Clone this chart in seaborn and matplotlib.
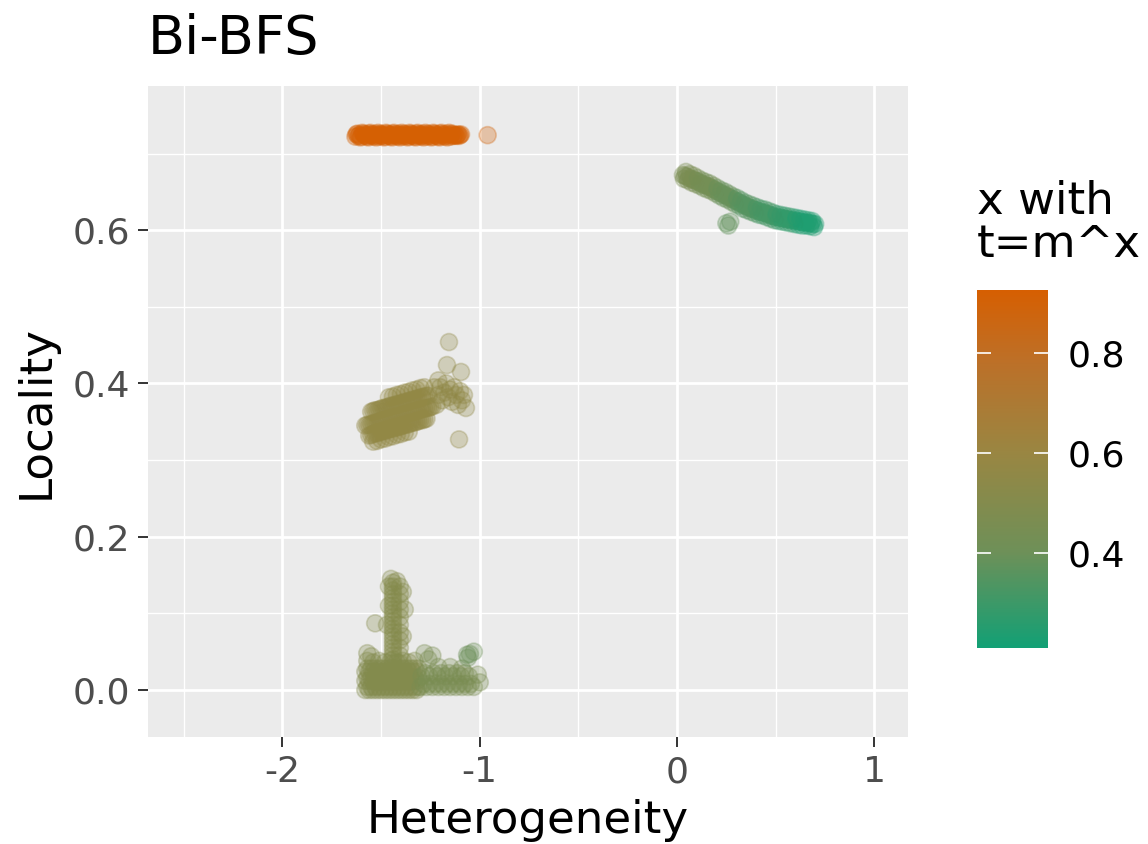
import numpy as np
import pandas as pd
import matplotlib
matplotlib.use("Agg")
import matplotlib.pyplot as plt
import seaborn as sns
from matplotlib.colors import LinearSegmentedColormap, Normalize
from matplotlib.cm import ScalarMappable

# ---------------- data ----------------
# cluster at the top (orange)
top_x = [-1.63,-1.62,-1.61,-1.60,-1.59,-1.58,-1.57,-1.56,-1.55,-1.54,-1.53,-1.52,-1.51,-1.50,-1.49,-1.48,
         -1.47,-1.46,-1.45,-1.44,-1.43,-1.42,-1.41,-1.40,-1.39,-1.38,-1.37,-1.36,-1.35,-1.34,-1.33,-1.32,
         -1.31,-1.30,-1.29,-1.28,-1.27,-1.26,-1.25,-1.24,-1.23,-1.22,-1.21,-1.20,-1.19,-1.18,-1.17,-1.16,
         -1.15,-1.14,-1.13,-1.12,-1.11,-1.10,
         -1.625,-1.615,-1.605,-1.595,-1.585,-1.575,-1.565,-1.555,-1.545,-1.535,-1.525,-1.515,-1.505,-1.495,
         -1.485,-1.475,-1.465,-1.455,-1.445,-1.435,-1.425,-1.415,-1.405,-1.395,-1.385,-1.375,-1.365,-1.355,
         -1.345,-1.335,-1.325,-1.315,-1.305,-1.295,-1.285,-1.275,-1.265,-1.255,-1.245,-1.235,-1.225,-1.215,
         -1.205,-1.195,-1.185,-1.175,-1.165,-1.155,-1.145,-1.135,-1.125,-1.115,-1.105,-1.095,
         -1.55,-1.50,-1.45,-1.40,-1.35,-1.30,-0.96]
top_y = [0.722,0.726,0.724,0.722,0.726,0.724,0.722,0.726,0.724,0.722,0.726,0.724,0.722,0.726,0.724,0.722,
         0.726,0.724,0.722,0.726,0.724,0.722,0.726,0.724,0.722,0.726,0.724,0.722,0.726,0.724,0.722,0.726,
         0.724,0.722,0.726,0.724,0.722,0.726,0.724,0.722,0.726,0.724,0.722,0.726,0.724,0.722,0.726,0.724,
         0.722,0.726,0.724,0.723,0.725,0.724,
         0.725,0.723,0.721,0.727,0.725,0.723,0.721,0.727,0.725,0.723,0.721,0.727,0.725,0.723,0.721,0.727,
         0.725,0.723,0.721,0.727,0.725,0.723,0.721,0.727,0.725,0.723,0.721,0.727,0.725,0.723,0.721,0.727,
         0.725,0.723,0.721,0.727,0.725,0.723,0.721,0.727,0.725,0.723,0.721,0.727,0.725,0.723,0.721,0.727,
         0.725,0.723,0.724,0.724,0.723,0.725,
         0.724,0.724,0.724,0.724,0.724,0.724,0.724]
top_c = [0.92] * 114 + [0.90]

# curved cluster on the right (green)
right_x = [0.03,0.04,0.05,0.06,0.07,0.08,0.09,0.10,0.11,0.12,0.13,0.14,0.15,0.16,0.17,0.18,0.19,
           0.20,0.21,0.22,0.23,0.24,0.25,0.26,0.27,0.28,0.29,0.30,0.31,0.32,0.33,0.34,0.35,0.36,
           0.37,0.38,0.39,0.40,0.41,0.42,0.43,0.44,0.45,0.46,0.47,0.48,0.49,0.50,0.51,0.52,0.53,
           0.54,0.55,0.56,0.57,0.58,0.59,0.60,0.61,0.62,0.63,0.64,0.65,0.66,0.67,0.68,0.69,0.70,
           0.035,0.055,0.075,0.095,0.115,0.135,0.155,0.175,0.195,0.215,0.235,0.255,0.275,0.295,0.315,
           0.335,0.355,0.375,0.395,0.415,0.435,0.455,0.475,0.495,0.515,0.535,0.555,0.575,0.595,0.615,
           0.635,0.655,0.675,0.695,
           0.045,0.065,0.085,0.105,0.125,0.145,0.165,0.185,0.205,0.225,0.245,0.265,0.285,0.305,0.325,
           0.345,0.365,0.385,0.405,0.425,0.445,0.465,0.485,0.505,0.525,0.545,0.565,0.585,0.605,0.625,
           0.645,0.665,0.685,
           0.25,0.26,0.27]
right_y = [0.672,0.671,0.670,0.668,0.667,0.666,0.665,0.664,0.663,0.661,0.660,0.659,0.658,0.657,0.656,
           0.654,0.653,0.651,0.650,0.649,0.647,0.646,0.645,0.643,0.642,0.641,0.639,0.638,0.637,0.635,
           0.634,0.633,0.631,0.630,0.629,0.628,0.627,0.626,0.625,0.624,0.623,0.623,0.622,0.621,0.620,
           0.619,0.618,0.617,0.617,0.616,0.616,0.615,0.615,0.614,0.614,0.613,0.613,0.612,0.612,0.611,
           0.611,0.610,0.610,0.610,0.609,0.609,0.608,0.608,
           0.667,0.665,0.662,0.660,0.658,0.655,0.653,0.651,0.648,0.645,0.642,0.640,0.637,0.634,0.632,
           0.628,0.626,0.624,0.622,0.620,0.619,0.617,0.615,0.613,0.612,0.611,0.610,0.609,0.608,0.607,
           0.606,0.606,0.605,0.604,
           0.676,0.673,0.671,0.668,0.665,0.663,0.661,0.658,0.655,0.652,0.650,0.647,0.644,0.642,0.639,
           0.636,0.634,0.632,0.630,0.628,0.627,0.625,0.623,0.621,0.620,0.619,0.618,0.617,0.616,0.615,
           0.614,0.613,0.612,
           0.609,0.606,0.611]
right_c = ([0.46]*7 + [0.43]*10 + [0.39]*10 + [0.35]*10 + [0.32]*10 + [0.28]*10 + [0.24]*11
           + [0.46]*4 + [0.43]*5 + [0.39]*5 + [0.35]*5 + [0.32]*5 + [0.28]*5 + [0.24]*5
           + [0.46]*3 + [0.43]*5 + [0.39]*5 + [0.35]*5 + [0.32]*5 + [0.28]*5 + [0.24]*5
           + [0.38]*3)

# middle cluster
mid_x = [-1.58,-1.57,-1.56,-1.55,-1.54,-1.53,-1.52,-1.51,-1.50,-1.49,-1.48,-1.47,-1.46,-1.45,-1.44,
         -1.43,-1.42,-1.41,-1.40,-1.39,-1.38,-1.37,-1.36,-1.35,-1.34,-1.33,-1.32,-1.31,-1.30,-1.29,
         -1.28,-1.27,-1.26,-1.25,-1.24,
         -1.55,-1.54,-1.53,-1.52,-1.51,-1.50,-1.49,-1.48,-1.47,-1.46,-1.45,-1.44,-1.43,-1.42,-1.41,
         -1.40,-1.39,-1.38,-1.37,-1.36,-1.35,-1.34,-1.33,-1.32,-1.31,-1.30,-1.29,-1.28,-1.27,-1.26,
         -1.56,-1.55,-1.54,-1.53,-1.52,-1.51,-1.50,-1.49,-1.48,-1.47,-1.46,-1.45,-1.44,-1.43,-1.42,
         -1.41,-1.40,-1.39,-1.38,-1.37,-1.36,-1.35,-1.34,-1.33,-1.32,-1.31,-1.30,-1.29,-1.28,-1.27,
         -1.46,-1.44,-1.42,-1.40,-1.38,-1.36,-1.34,-1.32,-1.30,-1.28,
         -1.54,-1.52,-1.50,-1.48,-1.46,-1.44,-1.42,-1.40,-1.38,-1.36,
         -1.22,-1.21,-1.20,-1.19,-1.18,-1.17,-1.16,-1.15,-1.14,-1.13,-1.12,-1.11,-1.10,-1.09,-1.08,
         -1.07,-1.21,-1.23,
         -1.156,-1.166,-1.095,-1.105]
mid_y = [0.345,0.346,0.346,0.347,0.348,0.349,0.349,0.350,0.351,0.352,0.352,0.353,0.354,0.355,0.355,
         0.356,0.357,0.357,0.358,0.359,0.360,0.360,0.361,0.362,0.363,0.363,0.364,0.365,0.366,0.366,
         0.367,0.368,0.368,0.369,0.370,
         0.363,0.364,0.365,0.365,0.366,0.367,0.368,0.368,0.369,0.370,0.371,0.371,0.372,0.373,0.373,
         0.374,0.375,0.376,0.376,0.377,0.378,0.379,0.379,0.380,0.381,0.382,0.382,0.383,0.384,0.384,
         0.332,0.333,0.334,0.335,0.335,0.336,0.337,0.338,0.338,0.339,0.340,0.341,0.341,0.342,0.343,
         0.343,0.344,0.345,0.346,0.346,0.347,0.348,0.349,0.349,0.350,0.351,0.352,0.352,0.353,0.354,
         0.382,0.383,0.385,0.386,0.388,0.389,0.391,0.392,0.394,0.395,
         0.324,0.325,0.327,0.328,0.330,0.331,0.333,0.334,0.336,0.337,
         0.372,0.385,0.395,0.378,0.388,0.400,0.382,0.392,0.376,0.395,0.385,0.372,0.390,0.378,0.385,
         0.368,0.404,0.395,
         0.454,0.424,0.415,0.327]
mid_c = [0.57] * 115 + [0.56] * 18 + [0.56, 0.56, 0.56, 0.57]

# bottom cluster
bot_x = [-1.44,-1.44,-1.44,-1.44,-1.44,-1.44,-1.44,-1.44,-1.44,-1.44,-1.44,-1.44,-1.44,-1.44,-1.44,
         -1.44,-1.44,-1.44,-1.44,-1.44,-1.44,-1.44,
         -1.405,-1.405,-1.405,-1.405,-1.405,-1.405,-1.405,-1.405,-1.405,-1.405,-1.405,
         -1.46,-1.45,-1.42,-1.39,-1.46,-1.38,-1.53,-1.47,-1.39,
         -1.58,-1.57,-1.56,-1.55,-1.54,-1.53,-1.52,-1.51,-1.50,-1.49,-1.48,-1.47,-1.46,-1.45,-1.44,
         -1.43,-1.42,-1.41,-1.40,-1.39,-1.38,-1.37,-1.36,-1.35,-1.34,-1.33,-1.32,-1.31,
         -1.58,-1.57,-1.56,-1.55,-1.54,-1.53,-1.52,-1.51,-1.50,-1.49,-1.48,-1.47,-1.46,-1.45,-1.44,
         -1.43,-1.42,-1.41,-1.40,-1.39,-1.38,-1.37,-1.36,-1.35,-1.34,-1.33,-1.32,-1.31,
         -1.58,-1.57,-1.56,-1.55,-1.54,-1.53,-1.52,-1.51,-1.50,-1.49,-1.48,-1.47,-1.46,-1.45,-1.44,
         -1.43,-1.42,-1.41,-1.40,-1.39,-1.38,-1.37,-1.36,-1.35,-1.34,-1.33,-1.32,-1.31,
         -1.57,-1.54,-1.51,-1.48,-1.45,-1.42,-1.39,-1.36,-1.33,-1.57,-1.55,
         -1.300,-1.285,-1.270,-1.255,-1.240,-1.225,-1.210,-1.195,-1.180,-1.165,-1.150,-1.135,-1.120,
         -1.105,-1.090,-1.075,-1.060,-1.045,-1.030,
         -1.295,-1.275,-1.255,-1.235,-1.215,-1.195,-1.175,-1.155,-1.135,-1.115,-1.095,-1.075,-1.055,
         -1.28,-1.26,-1.24,-1.21,-1.15,-1.09,-1.01,-1.00,
         -1.064,-1.06,-1.03,-1.05]
bot_y = [0.035,0.040,0.045,0.050,0.055,0.060,0.065,0.070,0.075,0.080,0.085,0.090,0.095,0.100,0.105,
         0.110,0.115,0.120,0.125,0.130,0.135,0.140,
         0.035,0.045,0.055,0.065,0.075,0.085,0.095,0.105,0.115,0.125,0.135,
         0.135,0.145,0.142,0.128,0.110,0.105,0.087,0.085,0.070,
         0.000,0.004,0.000,0.004,0.000,0.004,0.000,0.004,0.000,0.004,0.000,0.004,0.000,0.004,0.000,
         0.004,0.000,0.004,0.000,0.004,0.000,0.004,0.000,0.004,0.000,0.004,0.000,0.004,
         0.012,0.016,0.012,0.016,0.012,0.016,0.012,0.016,0.012,0.016,0.012,0.016,0.012,0.016,0.012,
         0.016,0.012,0.016,0.012,0.016,0.012,0.016,0.012,0.016,0.012,0.016,0.012,0.016,
         0.024,0.028,0.024,0.028,0.024,0.028,0.024,0.028,0.024,0.028,0.024,0.028,0.024,0.028,0.024,
         0.028,0.024,0.028,0.024,0.028,0.024,0.028,0.024,0.028,0.024,0.028,0.024,0.028,
         0.038,0.036,0.038,0.036,0.038,0.036,0.038,0.036,0.038,0.048,0.044,
         0.004,0.008,0.004,0.008,0.004,0.008,0.004,0.008,0.004,0.008,0.004,0.008,0.004,
         0.008,0.004,0.008,0.004,0.008,0.004,
         0.018,0.022,0.018,0.022,0.018,0.022,0.018,0.022,0.018,0.022,0.018,0.022,0.018,
         0.048,0.040,0.045,0.030,0.030,0.028,0.020,0.010,
         0.046,0.042,0.050,0.047]
bot_c = [0.51] * 42 + [0.50] * 95 + [0.46] * 40 + [0.40] * 4

x_ticks = [-2, -1, 0, 1]
y_ticks = [0.0, 0.2, 0.4, 0.6]
cbar_ticks = [0.4, 0.6, 0.8]
c_min, c_max = 0.21, 0.926

df = pd.DataFrame({
    "Heterogeneity": top_x + right_x + mid_x + bot_x,
    "Locality": top_y + right_y + mid_y + bot_y,
    "c": top_c + right_c + mid_c + bot_c,
})

# ---------------- style ----------------
cmap = LinearSegmentedColormap.from_list(
    "grad",
    [(0.0, "#12A075"), (0.27, "#6E9058"), (0.545, "#998642"), (0.8, "#BC7028"), (1.0, "#D65F02")])
norm = Normalize(vmin=c_min, vmax=c_max)

plt.rcParams["font.family"] = ["DejaVu Sans"]
fig = plt.figure(figsize=(11.48, 8.44), dpi=100)
ax = fig.add_axes([0.129, 0.1268, 0.662, 0.7712])
ax.set_facecolor("#EBEBEB")

sns.scatterplot(data=df, x="Heterogeneity", y="Locality", hue="c", palette=cmap,
                hue_norm=norm, legend=False, s=150, alpha=0.3, linewidth=1.2,
                edgecolor="face", ax=ax, zorder=3)

ax.set_xlim(-2.681, 1.171)
ax.set_ylim(-0.0613, 0.788)
ax.set_xticks(x_ticks)
ax.set_xticklabels([str(t) for t in x_ticks])
ax.set_yticks(y_ticks)
ax.set_yticklabels([f"{t:.1f}" for t in y_ticks])
ax.set_xticks([-2.5, -1.5, -0.5, 0.5], minor=True)
ax.set_yticks([0.1, 0.3, 0.5, 0.7], minor=True)
ax.grid(which="major", color="white", linewidth=2.0, zorder=0)
ax.grid(which="minor", color="white", linewidth=1.0, zorder=0)
ax.set_axisbelow(True)
for s in ax.spines.values():
    s.set_visible(False)
ax.tick_params(which="major", length=7, width=1.4, color="#333333",
               labelsize=26, labelcolor="#4D4D4D", pad=6)
ax.tick_params(which="minor", length=0)
ax.set_xlabel("Heterogeneity", fontsize=32.5, color="black", labelpad=7)
ax.set_ylabel("Locality", fontsize=32.5, color="black", labelpad=11)

fig.text(0.129, 0.936, "Bi-BFS", fontsize=39, ha="left", va="baseline")

# colorbar
cax = fig.add_axes([0.851, 0.232, 0.062, 0.424])
cb = fig.colorbar(ScalarMappable(norm=norm, cmap=cmap), cax=cax, ticks=cbar_ticks)
cb.outline.set_visible(False)
cax.tick_params(direction="in", color="white", length=10, width=1.2,
                left=True, right=True, labelsize=26, labelcolor="black", pad=14)
cax.set_yticklabels([f"{t:.1f}" for t in cbar_ticks])
fig.text(0.851, 0.787, "x with\nt=m^x", fontsize=32.5, ha="left", va="top", linespacing=1.0)

fig.savefig("out.png", dpi=100, facecolor="white")
